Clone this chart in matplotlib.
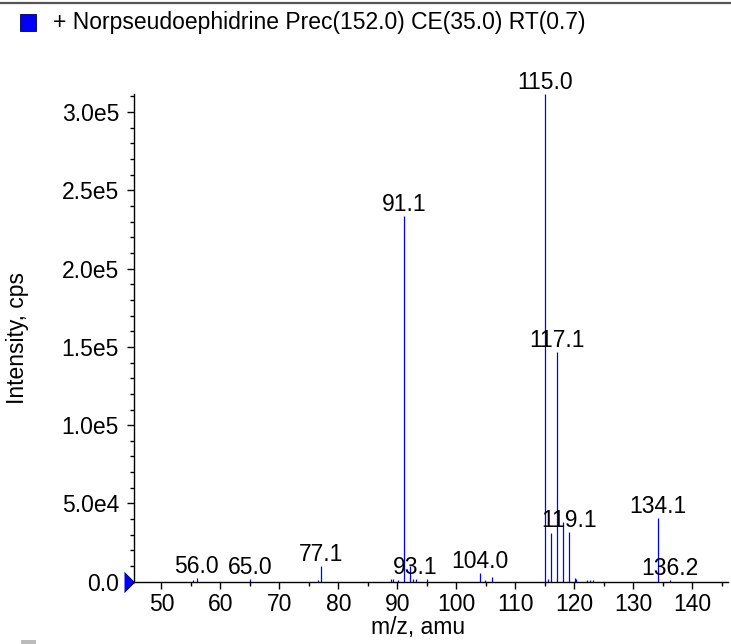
import matplotlib
matplotlib.use("Agg")
import matplotlib.pyplot as plt
from matplotlib.ticker import MultipleLocator, FixedLocator, FixedFormatter
from matplotlib.patches import Rectangle
from matplotlib.lines import Line2D

plt.rcParams['font.family'] = ['Liberation Sans', 'DejaVu Sans']

# peak list (m/z, intensity in cps)
mz = [55.3, 56.0, 65.0, 76.6, 77.1, 88.9, 89.2, 90.1, 91.1, 92.1, 92.7, 93.1, 95.0,
      104.0, 104.9, 106.0, 115.0, 115.5, 116.1, 117.1, 118.1, 119.1, 120.1, 120.3,
      122.1, 122.6, 123.2, 134.1, 136.2]
intensity = [1.0e3, 2.6e3, 1.9e3, 1.0e3, 1.02e4, 1.5e3, 2.0e3, 1.0e3, 2.336e5, 1.0e4,
             1.5e3, 2.0e3, 1.5e3, 5.7e3, 1.0e3, 2.8e3, 3.117e5, 1.7e3, 3.09e4, 1.466e5,
             3.81e4, 3.19e4, 2.2e3, 2.0e3, 1.0e3, 1.0e3, 1.0e3, 4.05e4, 1.3e3]

# peaks that carry a label
labelled = [56.0, 65.0, 77.1, 91.1, 93.1, 104.0, 115.0, 117.1, 119.1, 134.1, 136.2]

ytick_vals = [0, 5e4, 1e5, 1.5e5, 2e5, 2.5e5, 3e5]
ytick_text = ['0.0', '5.0e4', '1.0e5', '1.5e5', '2.0e5', '2.5e5', '3.0e5']

title = '+ Norpseudoephidrine Prec(152.0) CE(35.0) RT(0.7)'
fs = 16.5

fig = plt.figure(figsize=(7.31, 6.44), dpi=100)
ax = fig.add_axes([0.1837, 0.0967, 0.8118, 0.7573])

ax.vlines(mz, 0, intensity, colors='#0000ff', lw=0.9)

for m in labelled:
    h = intensity[mz.index(m)]
    ax.annotate(f'{m:.1f}', xy=(m, h), xytext=(0, 3.6), textcoords='offset points',
                ha='center', va='baseline', fontsize=fs, color='black')

ax.set_xlim(45.4, 146.0)
ax.set_ylim(0, 3.115e5)

ax.xaxis.set_major_locator(MultipleLocator(10))
ax.xaxis.set_minor_locator(MultipleLocator(5))
ax.yaxis.set_major_locator(FixedLocator(ytick_vals))
ax.yaxis.set_major_formatter(FixedFormatter(ytick_text))
ax.yaxis.set_minor_locator(MultipleLocator(1e4))

ax.tick_params(axis='both', which='major', length=5, width=1, labelsize=fs, direction='out')
ax.tick_params(axis='both', which='minor', length=3, width=1, direction='out')
ax.tick_params(axis='x', pad=3)
ax.tick_params(axis='y', pad=6)

for s in ['top', 'right']:
    ax.spines[s].set_visible(False)
for s in ['left', 'bottom']:
    ax.spines[s].set_linewidth(1.0)

ax.set_xlabel('m/z, amu', fontsize=fs)
ax.set_ylabel('Intensity, cps', fontsize=fs)
ax.xaxis.set_label_coords(0.478, -0.071)
ax.yaxis.set_label_coords(-0.178, 0.5)

# blue marker at the zero line
ax.plot([0], [0], transform=ax.transAxes, marker=[(-1, -1), (0, 0), (-1, 1)],
        markersize=14.4, color='#0000ff', markeredgecolor='#000033', markeredgewidth=0.6,
        clip_on=False, zorder=5)

# header: legend swatch, title text, top rule
fig.add_artist(Line2D([0, 1], [1 - 2.5 / 644, 1 - 2.5 / 644], color='#555555', lw=1.6))
fig.add_artist(Rectangle((20 / 731, 1 - 31 / 644), 16 / 731, 17 / 644,
                         facecolor='#0000ff', edgecolor='#000044', lw=0.6))
fig.text(53 / 731, 1 - 22 / 644, title, fontsize=fs, ha='left', va='center')
fig.add_artist(Rectangle((21 / 731, 0), 15 / 731, 4 / 644,
                         facecolor='#bbbbbb', edgecolor='none'))

fig.savefig('out.png', dpi=100)
